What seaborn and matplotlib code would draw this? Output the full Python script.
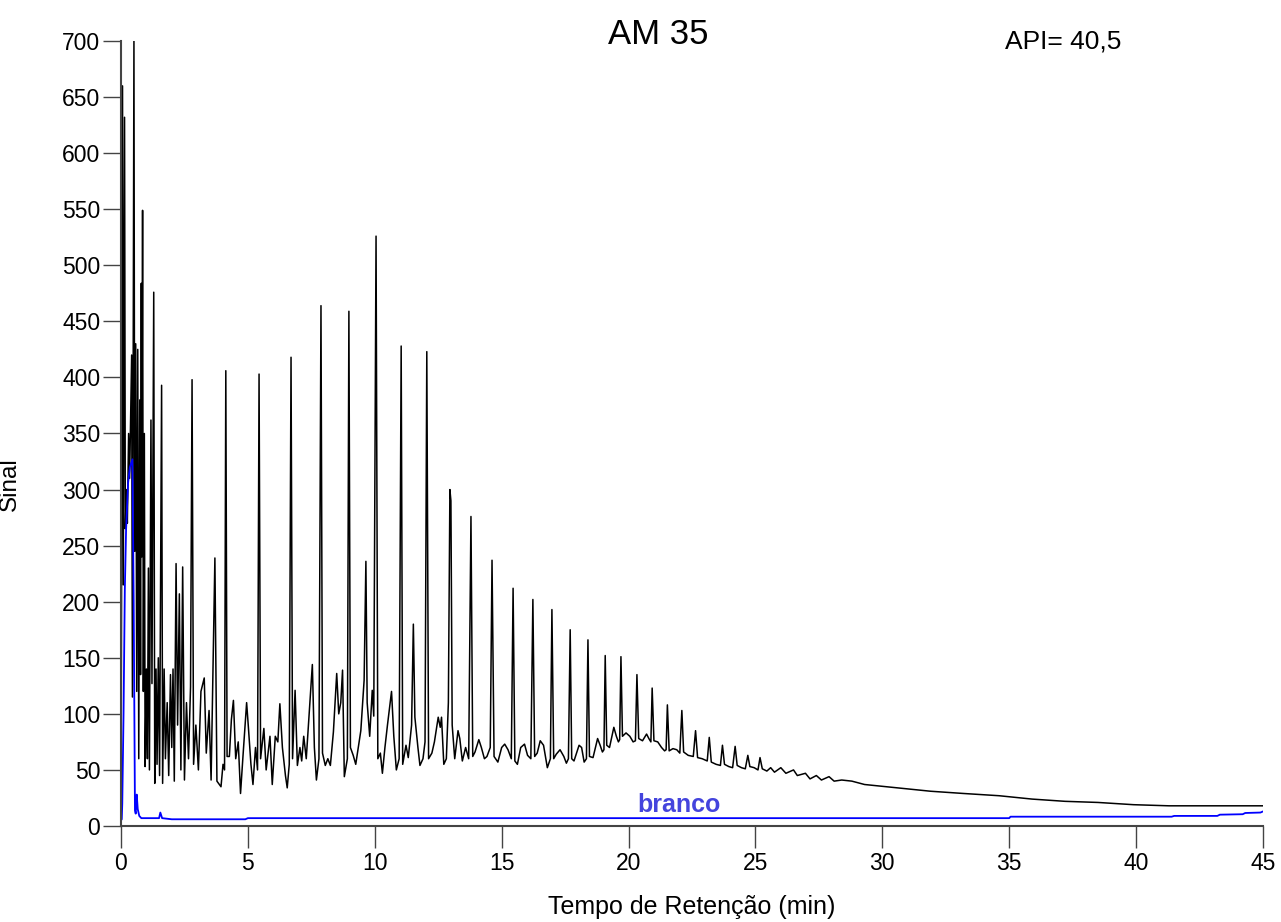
import numpy as np
import pandas as pd
import seaborn as sns
import matplotlib.pyplot as plt

# tallest peaks of the sample trace (min, signal)
apex_t = [0.06, 0.14, 0.51, 0.85, 1.29, 1.60, 2.80, 4.13, 5.44, 6.70, 7.88, 8.98,
          10.05, 11.04, 12.05, 12.96, 13.79, 14.62, 15.45, 16.23, 16.98, 17.70,
          18.40, 19.08, 19.70, 20.33, 20.93, 21.53, 22.10, 22.64, 23.18, 23.70,
          24.20, 24.70, 25.18]
apex_y = [660, 632, 702, 549, 476, 393, 398, 406, 403, 418, 464, 459,
          526, 428, 423, 300, 276, 237, 212, 202, 193, 175,
          166, 152, 151, 135, 123, 108, 103, 85, 79, 72,
          71, 63, 61]

# small peaks, valleys and the baseline hump between them
grass_t = [0.00, 0.02, 0.09, 0.17, 0.21, 0.25, 0.30, 0.34, 0.38, 0.42, 0.45, 0.54,
           0.58, 0.62, 0.66, 0.70, 0.74, 0.77, 0.80, 0.82, 0.88, 0.92, 0.95, 1.00,
           1.04, 1.08, 1.12, 1.18, 1.22, 1.33, 1.38, 1.42, 1.47, 1.52, 1.64, 1.70,
           1.75, 1.82, 1.88, 1.95, 2.00, 2.05, 2.10, 2.17, 2.23, 2.30, 2.36, 2.43,
           2.50, 2.58, 2.66, 2.74, 2.86, 2.95, 3.05, 3.15, 3.28, 3.36, 3.47, 3.55,
           3.70, 3.78, 3.94, 4.02, 4.08, 4.18, 4.27, 4.35, 4.43, 4.52, 4.62, 4.71,
           4.80, 4.95, 5.02, 5.12, 5.20, 5.30, 5.38, 5.50, 5.63, 5.72, 5.87, 5.96,
           6.08, 6.18, 6.26, 6.36, 6.48, 6.55, 6.63, 6.76, 6.86, 6.95, 7.05, 7.12,
           7.20, 7.30, 7.45, 7.54, 7.62, 7.70, 7.80, 7.94, 8.05, 8.15, 8.25, 8.37,
           8.50, 8.58, 8.66, 8.73, 8.80, 8.92, 9.04, 9.15, 9.25, 9.35, 9.45, 9.58,
           9.65, 9.70, 9.80, 9.90, 9.96, 10.12, 10.22, 10.30, 10.40, 10.50, 10.66, 10.75,
           10.85, 10.96, 11.10, 11.23, 11.32, 11.45, 11.52, 11.58, 11.70, 11.78, 11.90, 11.98,
           12.12, 12.25, 12.35, 12.50, 12.58, 12.63, 12.72, 12.82, 12.90, 13.00, 13.05, 13.15,
           13.28, 13.35, 13.45, 13.58, 13.70, 13.86, 13.95, 14.10, 14.20, 14.32, 14.42, 14.55,
           14.70, 14.85, 15.00, 15.12, 15.25, 15.38, 15.52, 15.62, 15.75, 15.90, 16.02, 16.15,
           16.30, 16.40, 16.52, 16.65, 16.80, 16.92, 17.05, 17.15, 17.30, 17.45, 17.55, 17.63,
           17.76, 17.85, 18.05, 18.15, 18.25, 18.34, 18.46, 18.60, 18.78, 18.88, 18.97, 19.03,
           19.14, 19.25, 19.42, 19.52, 19.60, 19.65, 19.76, 19.90, 20.05, 20.18, 20.27, 20.40,
           20.55, 20.71, 20.80, 20.88, 21.00, 21.15, 21.30, 21.42, 21.48, 21.60, 21.75, 21.90,
           22.02, 22.17, 22.35, 22.55, 22.72, 22.90, 23.10, 23.26, 23.45, 23.62, 23.78, 23.95,
           24.10, 24.28, 24.45, 24.60, 24.78, 24.95, 25.10, 25.27, 25.45, 25.60, 25.75, 26.00,
           26.20, 26.50, 26.65, 26.97, 27.15, 27.40, 27.60, 27.90, 28.10, 28.40, 28.80, 29.30,
           30.60, 31.90, 33.20, 34.60, 35.90, 37.20, 38.50, 39.90, 41.30, 42.00, 45.00]
grass_y = [5, 200, 215, 265, 300, 270, 350, 310, 366, 420, 115, 245,
           430, 120, 425, 60, 380, 135, 484, 240, 120, 350, 53, 140,
           60, 230, 50, 362, 127, 38, 140, 55, 150, 45, 38, 140,
           60, 110, 45, 135, 70, 140, 40, 234, 90, 207, 50, 231,
           41, 110, 60, 124, 55, 90, 50, 120, 132, 65, 103, 41,
           239, 40, 35, 55, 50, 62, 62, 95, 112, 60, 75, 29,
           60, 110, 88, 55, 37, 70, 50, 60, 87, 50, 80, 37,
           80, 75, 109, 70, 45, 34, 55, 60, 121, 54, 70, 58,
           80, 60, 112, 144, 70, 41, 60, 65, 54, 60, 54, 84,
           136, 100, 110, 139, 44, 60, 70, 63, 55, 70, 85, 130,
           236, 110, 80, 121, 98, 60, 65, 47, 70, 90, 120, 80,
           50, 60, 55, 72, 61, 90, 180, 97, 70, 54, 60, 75,
           60, 65, 75, 97, 88, 97, 55, 60, 110, 290, 90, 60,
           85, 78, 58, 70, 60, 62, 66, 77, 70, 60, 62, 70,
           62, 57, 70, 73, 68, 60, 58, 55, 70, 73, 63, 60,
           62, 65, 76, 72, 52, 60, 60, 64, 68, 62, 56, 60,
           60, 58, 72, 70, 57, 60, 62, 61, 78, 72, 66, 68,
           72, 70, 88, 80, 75, 77, 80, 83, 80, 75, 76, 78,
           76, 82, 78, 75, 76, 75, 70, 67, 68, 67, 69, 68,
           65, 66, 63, 62, 61, 60, 58, 57, 55, 54, 55, 53,
           52, 54, 52, 51, 53, 52, 50, 51, 49, 52, 48, 52,
           47, 50, 45, 47, 42, 45, 41, 44, 40, 41, 40, 37,
           34, 31, 29, 27, 24, 22, 21, 19, 18, 18, 18]

# blank run ("branco")
blank_t = [0.00, 0.03, 0.05, 0.10, 0.15, 0.20, 0.28, 0.35, 0.45, 0.50, 0.55, 0.58,
           0.62, 0.66, 0.72, 0.80, 1.50, 1.55, 1.62, 2.00, 4.90, 5.00, 35.00, 35.05,
           41.40, 41.50, 43.20, 43.30, 44.20, 44.30, 44.90, 45.00]
blank_y = [5, 6, 20, 100, 210, 264, 306, 320, 327, 200, 14, 11,
           28, 15, 9, 7, 7, 12, 7, 6, 6, 7, 7, 8.3,
           8.3, 9, 9, 10.1, 10.5, 11.6, 12, 13]

sample = pd.DataFrame({'t': apex_t + grass_t, 'sinal': apex_y + grass_y}).sort_values('t')
blank = pd.DataFrame({'t': blank_t, 'sinal': blank_y})

sns.set_theme(style="white")
plt.rcParams['font.family'] = ['Liberation Sans', 'DejaVu Sans']
plt.rcParams['text.color'] = 'black'
plt.rcParams['axes.labelcolor'] = 'black'
plt.rcParams['xtick.color'] = 'black'
plt.rcParams['ytick.color'] = 'black'

fig = plt.figure(figsize=(12.81, 9.22), dpi=100)
ax = fig.add_axes([121 / 1281, 1 - 826 / 922, (1263 - 121) / 1281, (826 - 41) / 922])

sns.lineplot(data=sample, x='t', y='sinal', estimator=None, sort=False,
             color='black', linewidth=1.1, ax=ax)
sns.lineplot(data=blank, x='t', y='sinal', estimator=None, sort=False,
             color='#0000ff', linewidth=1.3, ax=ax)

ax.set_xlim(0, 45)
ax.set_ylim(0, 700)
ax.set_xticks(range(0, 46, 5))
ax.set_yticks(range(0, 701, 50))
sns.despine(ax=ax)
for side in ['left', 'bottom']:
    ax.spines[side].set_color('#444444')
    ax.spines[side].set_linewidth(1.5)
ax.tick_params(axis='x', direction='out', length=16, width=1, color='#444444',
               labelsize=16.5, pad=3, bottom=True)
ax.tick_params(axis='y', direction='out', length=13, width=1, color='#444444',
               labelsize=16.5, pad=2, left=True)

ax.set_xlabel('Tempo de Retenção (min)', fontsize=18, labelpad=14)
ax.set_ylabel('Sinal', fontsize=17.5)
ax.yaxis.set_label_coords(-0.088, 0.435)
ax.text(22.0, 18.5, 'branco', color='#4444dd', fontsize=18, fontweight='bold',
        ha='center', va='center')

fig.text(658 / 1281, 1 - 35 / 922, 'AM 35', fontsize=25, ha='center', va='center')
fig.text(1063 / 1281, 1 - 42 / 922, 'API= 40,5', fontsize=19, ha='center', va='center')

fig.savefig('out.png', dpi=100)
